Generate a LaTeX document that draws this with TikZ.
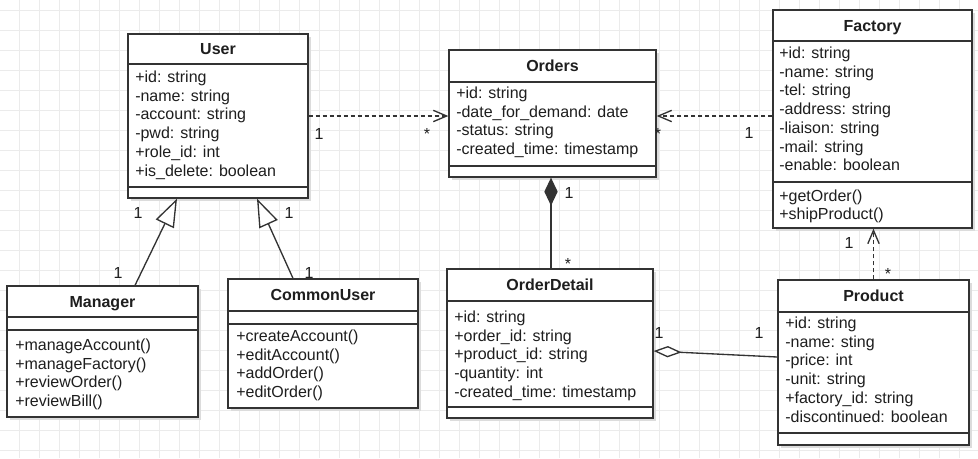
\documentclass[tikz,border=0pt]{standalone}
\usepackage{fontspec}
\setmainfont{Liberation Sans}
\usetikzlibrary{arrows.meta,fit,calc}
\definecolor{gridc}{HTML}{EBEBEB}
\definecolor{linec}{HTML}{333333}
\definecolor{textc}{HTML}{1E1E1E}
\definecolor{shadowc}{HTML}{DCDCDC}
\tikzset{
  classbox/.style={draw=linec, line width=1pt, fill=white, inner sep=0pt},
  sepline/.style={draw=linec, line width=1pt},
  attrtext/.style={anchor=base west, inner sep=0pt, text=textc, font=\fontsize{12}{14}\selectfont},
  titletext/.style={anchor=base, inner sep=0pt, text=textc, font=\fontsize{12}{14}\selectfont\bfseries},
  lbl/.style={anchor=base, inner sep=0pt, text=textc, font=\fontsize{12}{14}\selectfont},
  conn/.style={draw=linec, line width=1pt},
  dep/.style={conn, dash pattern=on 3pt off 2.25pt, -{Straight Barb[length=10pt, width=8.5pt, line width=1pt]}},
  gen/.style={conn, -{Triangle[open, length=21pt, width=15pt, fill=white, line width=1pt]}},
  comp/.style={conn, {Diamond[length=21pt, width=10pt, fill=linec]}-},
  aggr/.style={conn, {Diamond[open, length=21pt, width=8.5pt, fill=white, line width=1pt]}-},
}
\newcommand{\umlbox}[5]{%
  \fill[shadowc] (#2+3,#3+3) rectangle (#4+3,#5+3);
  \node[classbox, fit={(#2,#3)(#4,#5)}] (#1) {};}
\newcommand{\umllines}[3]{%
  \foreach \attrline [count=\i from 0] in {#3} {\node[attrtext] at (#1, #2+18.7*\i+5.5) {\attrline};}}
\begin{document}
\begin{tikzpicture}[x=0.75pt, y=-0.75pt]
\useasboundingbox (0,0) rectangle (978,458);
\fill[white] (0,0) rectangle (978,458);
\foreach \gx in {19,39,...,979} \draw[gridc, line width=0.75pt] (\gx,0) -- (\gx,458);
\foreach \gy in {10.5,30.5,...,458} \draw[gridc, line width=0.75pt] (0,\gy) -- (978,\gy);

% User
\umlbox{user}{128}{34}{308}{198}
\draw[sepline] (128,64) -- (308,64);
\draw[sepline] (128,187) -- (308,187);
\node[titletext] at (218,49+5.5) {User};
\umllines{135}{77}{+id: string, -name: string, -account: string, -pwd: string, +role\_id: int, +is\_delete: boolean}

% Orders
\umlbox{orders}{449}{50}{656}{177}
\draw[sepline] (449,82) -- (656,82);
\draw[sepline] (449,166) -- (656,166);
\node[titletext] at (552.5,66+5.5) {Orders};
\umllines{456}{93}{+id: string, -date\_for\_demand: date, -status: string, -created\_time: timestamp}

% Factory
\umlbox{factory}{773}{10}{972}{228}
\draw[sepline] (773,41) -- (972,41);
\draw[sepline] (773,182) -- (972,182);
\node[titletext] at (872.5,25.5+5.5) {Factory};
\umllines{779}{53}{+id: string, -name: string, -tel: string, -address: string, -liaison: string, -mail: string, -enable: boolean}
\umllines{779}{195.5}{+getOrder(), +shipProduct()}

% Manager
\umlbox{manager}{7}{286}{198}{417}
\draw[sepline] (7,317) -- (198,317);
\draw[sepline] (7,330) -- (198,330);
\node[titletext] at (102.5,301.5+5.5) {Manager};
\umllines{15}{345}{+manageAccount(), +manageFactory(), +reviewOrder(), +reviewBill()}

% CommonUser
\umlbox{commonuser}{228}{279}{418}{408}
\draw[sepline] (228,311) -- (418,311);
\draw[sepline] (228,324) -- (418,324);
\node[titletext] at (323,295+5.5) {CommonUser};
\umllines{236}{336}{+createAccount(), +editAccount(), +addOrder(), +editOrder()}

% OrderDetail
\umlbox{orderdetail}{447}{269}{653}{418}
\draw[sepline] (447,301) -- (653,301);
\draw[sepline] (447,407) -- (653,407);
\node[titletext] at (550,285+5.5) {OrderDetail};
\umllines{454}{317}{+id: string, +order\_id: string, +product\_id: string, -quantity: int, -created\_time: timestamp}

% Product
\umlbox{product}{778}{280}{969}{445}
\draw[sepline] (778,312) -- (969,312);
\draw[sepline] (778,433) -- (969,433);
\node[titletext] at (873.5,296+5.5) {Product};
\umllines{785}{323}{+id: string, -name: sting, -price: int, -unit: string, +factory\_id: string, -discontinued: boolean}

% connectors
\coordinate (compstart) at ($(orders.south)+(-1.5,0)$);
\coordinate (aggrstart) at ($(orderdetail.east)+(0,7.5)$);
\coordinate (aggrend) at ($(product.west)+(0,-5.5)$);
\coordinate (mgrstart) at ($(manager.north)+(32.5,0)$);
\coordinate (mgrend) at ($(user.south)+(-41,0)$);
\coordinate (custart) at ($(commonuser.north)+(-30,0)$);
\coordinate (cuend) at ($(user.south)+(39,0)$);
\draw[dep] (user.east) -- (user.east -| orders.west);
\draw[dep] (factory.west |- user.east) -- (orders.east |- user.east);
\draw[dep] (product.north) -- (product.north |- factory.south);
\draw[comp] (compstart) -- (compstart |- orderdetail.north);
\draw[aggr] (aggrstart) -- (aggrend);
\draw[gen] (mgrstart) -- (mgrend);
\draw[gen] (custart) -- (cuend);

% multiplicities
\node[lbl] at (319,134+5.7) {1};
\node[lbl] at (427,130+9) {*};
\node[lbl] at (658,130+9) {*};
\node[lbl] at (749,133+5.7) {1};
\node[lbl] at (569,193+5.7) {1};
\node[lbl] at (568,260+9) {*};
\node[lbl] at (659,333+5.7) {1};
\node[lbl] at (759,333+5.7) {1};
\node[lbl] at (849,243+5.7) {1};
\node[lbl] at (888,270+9) {*};
\node[lbl] at (138,213+5.7) {1};
\node[lbl] at (118,273+5.7) {1};
\node[lbl] at (289,213+5.7) {1};
\node[lbl] at (309,273+5.7) {1};
\end{tikzpicture}
\end{document}
